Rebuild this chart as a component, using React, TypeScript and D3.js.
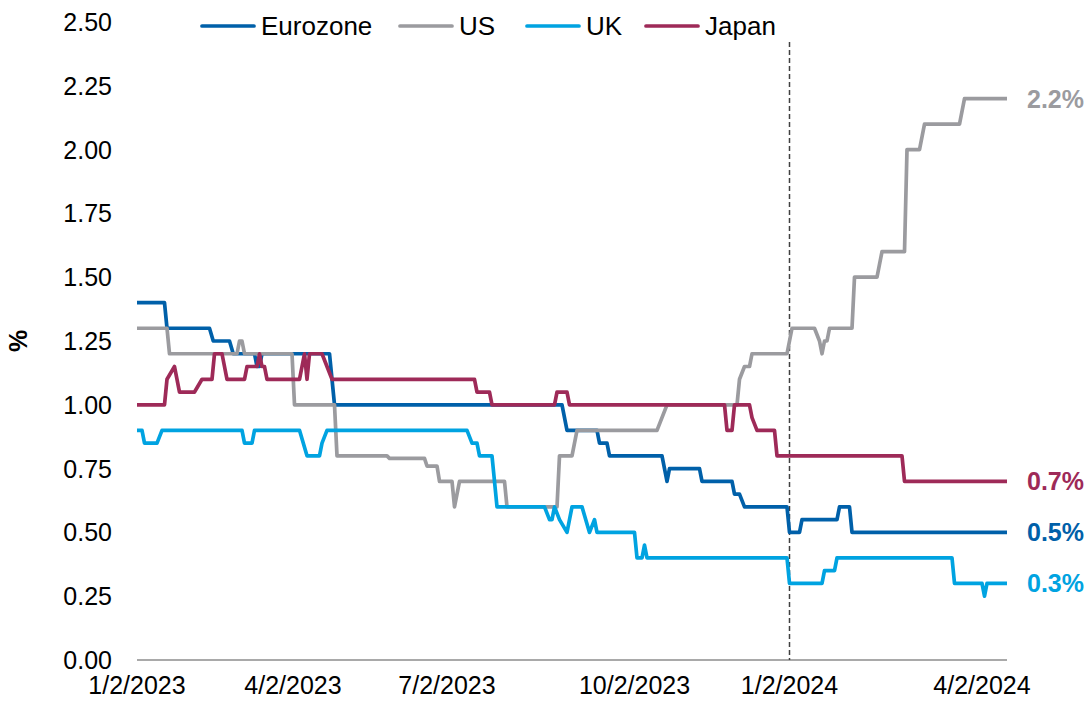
import React from 'react';
import * as d3 from 'd3';

// x is an observation index (the source axis is not linear in calendar time)
const tickLabels = ['1/2/2023', '4/2/2023', '7/2/2023', '10/2/2023', '1/2/2024', '4/2/2024'];
const tickIndex = [0, 62.4, 124, 199, 261, 338];
const lastIndex = 348;
const markerIndex = 261; // 1/2/2024

const yTicks = [0, 0.25, 0.5, 0.75, 1, 1.25, 1.5, 1.75, 2, 2.25, 2.5];

const eurozone: [number, number][] = [
  [0, 1.4], [11, 1.4], [12, 1.3], [29, 1.3], [30.5, 1.25], [37, 1.25], [38.5, 1.2], [47, 1.2],
  [48, 1.15], [49, 1.15], [50, 1.2], [77, 1.2], [79, 1.0], [170, 1.0], [172, 0.9], [184, 0.9],
  [185, 0.85], [188, 0.85], [189, 0.8], [210, 0.8], [212, 0.7], [213, 0.75], [225, 0.75],
  [226, 0.7], [238, 0.7], [239, 0.65], [241, 0.65], [243, 0.6], [260, 0.6], [261, 0.5],
  [265, 0.5], [266, 0.55], [280, 0.55], [281, 0.6], [285, 0.6], [286, 0.5], [348, 0.5],
];

const us: [number, number][] = [
  [0, 1.3], [12, 1.3], [13, 1.2], [40, 1.2], [41, 1.25], [42, 1.25], [43, 1.2], [62, 1.2],
  [63, 1.0], [79, 1.0], [80, 0.8], [100, 0.8], [101, 0.79], [115, 0.79], [116, 0.76],
  [120, 0.76], [121, 0.7], [126, 0.7], [127, 0.6], [129, 0.7], [147, 0.7], [148, 0.6],
  [168, 0.6], [169, 0.8], [174, 0.8], [176, 0.9], [208, 0.9], [210, 0.95], [212, 1.0],
  [240, 1.0], [241, 1.1], [243, 1.15], [245, 1.15], [246, 1.2], [260, 1.2], [262, 1.3],
  [271, 1.3], [273, 1.25], [274, 1.2], [275, 1.25], [276, 1.25], [277, 1.3], [286, 1.3],
  [287, 1.5], [296, 1.5], [297, 1.55], [298, 1.6], [307, 1.6], [308, 2.0], [313, 2.0],
  [315, 2.1], [329, 2.1], [331, 2.2], [348, 2.2],
];

const uk: [number, number][] = [
  [0, 0.9], [2, 0.9], [3, 0.85], [8, 0.85], [10, 0.9], [42, 0.9], [43, 0.85], [46, 0.85],
  [47, 0.9], [65, 0.9], [68, 0.8], [73, 0.8], [74, 0.85], [76, 0.9], [132, 0.9], [134, 0.85],
  [136, 0.85], [137, 0.8], [142, 0.8], [144, 0.6], [163, 0.6], [165, 0.55], [166, 0.55],
  [167, 0.6], [169, 0.55], [172, 0.5], [174, 0.6], [178, 0.6], [181, 0.5], [183, 0.55],
  [184, 0.5], [199, 0.5], [200, 0.4], [202, 0.4], [203, 0.45], [204, 0.4], [260, 0.4],
  [261, 0.3], [274, 0.3], [275, 0.35], [279, 0.35], [280, 0.4], [326, 0.4], [327, 0.3],
  [338, 0.3], [339, 0.25], [340, 0.3], [348, 0.3],
];

const japan: [number, number][] = [
  [0, 1.0], [11, 1.0], [12, 1.1], [15, 1.15], [17, 1.05], [23, 1.05], [26, 1.1], [30, 1.1],
  [31, 1.2], [34, 1.2], [36, 1.1], [43, 1.1], [44, 1.15], [48, 1.15], [49, 1.2], [50, 1.15],
  [51, 1.15], [52, 1.1], [65, 1.1], [67, 1.2], [68, 1.1], [69, 1.2], [74, 1.2], [78, 1.1],
  [135, 1.1], [136, 1.05], [141, 1.05], [142, 1.0], [167, 1.0], [168, 1.05], [172, 1.05],
  [173, 1.0], [235, 1.0], [236, 0.9], [238, 0.9], [239, 1.0], [245, 1.0], [246, 0.95],
  [248, 0.9], [255, 0.9], [256, 0.8], [306, 0.8], [307, 0.7], [348, 0.7],
];

const seriesNames = ['Eurozone', 'US', 'UK', 'Japan'];
const seriesData = [eurozone, us, uk, japan];
const seriesColors = ['#0060A9', '#9B9B9F', '#00A3E1', '#9E2A58'];
const endLabels = ['0.5%', '2.2%', '0.3%', '0.7%'];

const width = 1092;
const height = 705;
const margin = { top: 22, right: 85, bottom: 45, left: 137 };
const font = '"Liberation Sans", Arial, sans-serif';

const App = () => {
  const x = d3
    .scaleLinear()
    .domain([0, lastIndex])
    .range([margin.left, width - margin.right]);
  const y = d3
    .scaleLinear()
    .domain([0, 2.5])
    .range([height - margin.bottom, margin.top]);

  const line = d3
    .line<[number, number]>()
    .x((d) => x(d[0]))
    .y((d) => y(d[1]));

  const legendX = [202, 400, 527, 646];

  return (
    <svg
      width={width}
      height={height}
      style={{ position: 'absolute', left: 0, top: 0, background: '#fff' }}
      fontFamily={font}
    >
      {/* y axis labels */}
      {yTicks.map((t) => (
        <text key={t} x={112} y={y(t)} dy="0.36em" textAnchor="end" fontSize={25} fill="#000">
          {t.toFixed(2)}
        </text>
      ))}
      <text
        transform={`translate(27,${y(1.25)}) rotate(-90)`}
        textAnchor="middle"
        fontSize={25}
        fontWeight="bold"
      >
        %
      </text>

      {/* x axis */}
      <line
        x1={x(0)}
        x2={x(lastIndex)}
        y1={y(0)}
        y2={y(0)}
        stroke="#8c8c8c"
        strokeWidth={1.5}
      />
      {tickLabels.map((t, i) => (
        <text key={t} x={x(tickIndex[i])} y={y(0) + 34} textAnchor="middle" fontSize={25}>
          {t}
        </text>
      ))}

      {/* marker for start of 2024 */}
      <line
        x1={x(markerIndex)}
        x2={x(markerIndex)}
        y1={42}
        y2={y(0)}
        stroke="#404040"
        strokeWidth={1.5}
        strokeDasharray="5,3"
      />

      {seriesData.map((s, i) => (
        <path
          key={seriesNames[i]}
          d={line(s) || ''}
          fill="none"
          stroke={seriesColors[i]}
          strokeWidth={3.7}
          strokeLinejoin="round"
        />
      ))}

      {seriesData.map((s, i) => (
        <text
          key={endLabels[i]}
          x={x(lastIndex) + 20}
          y={y(s[s.length - 1][1])}
          dy="0.36em"
          fontSize={25}
          fontWeight="bold"
          fill={seriesColors[i]}
        >
          {endLabels[i]}
        </text>
      ))}

      {/* legend */}
      {seriesNames.map((n, i) => (
        <g key={n} transform={`translate(${legendX[i]},26)`}>
          <line x1={0} x2={52} stroke={seriesColors[i]} strokeWidth={3.7} strokeLinecap="round" />
          <text x={59} dy="0.36em" fontSize={26}>
            {n}
          </text>
        </g>
      ))}
    </svg>
  );
};

export default App;
